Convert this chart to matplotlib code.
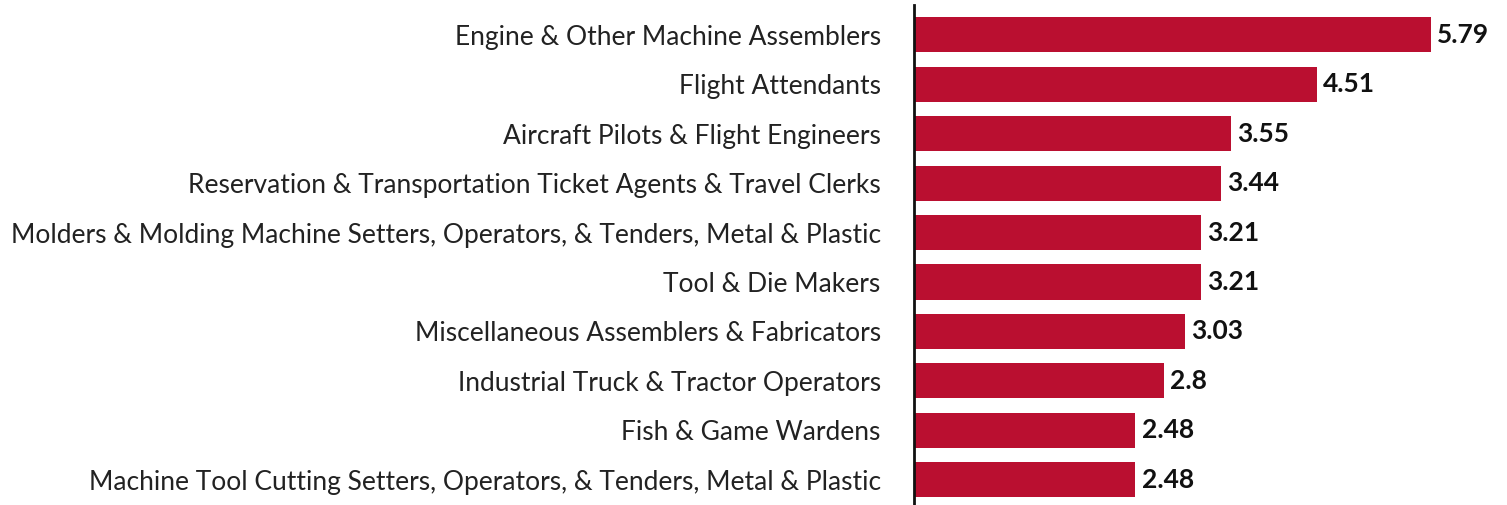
import matplotlib.pyplot as plt

plt.rcParams['font.family'] = ['Lato', 'DejaVu Sans']

occupations = [
    "Engine & Other Machine Assemblers",
    "Flight Attendants",
    "Aircraft Pilots & Flight Engineers",
    "Reservation & Transportation Ticket Agents & Travel Clerks",
    "Molders & Molding Machine Setters, Operators, & Tenders, Metal & Plastic",
    "Tool & Die Makers",
    "Miscellaneous Assemblers & Fabricators",
    "Industrial Truck & Tractor Operators",
    "Fish & Game Wardens",
    "Machine Tool Cutting Setters, Operators, & Tenders, Metal & Plastic",
]
values = [5.79, 4.51, 3.55, 3.44, 3.21, 3.21, 3.03, 2.8, 2.48, 2.48]
value_labels = ["5.79", "4.51", "3.55", "3.44", "3.21", "3.21", "3.03", "2.8", "2.48", "2.48"]

fig = plt.figure(figsize=(15.07, 5.05), dpi=100)
ax = fig.add_axes([914 / 1507, 0.0, (1476 - 914) / 1507, 0.99])

y = range(len(occupations))
ax.barh(y, values, height=0.71, color="#BA0F30")

for yi, v, lab in zip(y, values, value_labels):
    ax.text(v + 0.07, yi, lab, va="center", ha="left", fontsize=19,
            fontweight="bold", color="#111111")

ax.set_yticks(list(y))
ax.set_yticklabels(occupations, fontsize=19, color="#222222")
ax.tick_params(axis="y", length=0, pad=24)
ax.set_xticks([])
ax.set_xlim(0, (1476 - 914) / 89.3)
ax.set_ylim(9.51, -0.6)

for s in ["top", "right", "bottom"]:
    ax.spines[s].set_visible(False)
ax.spines["left"].set_linewidth(2)
ax.spines["left"].set_color("#111111")

fig.savefig("out.png", dpi=100)
